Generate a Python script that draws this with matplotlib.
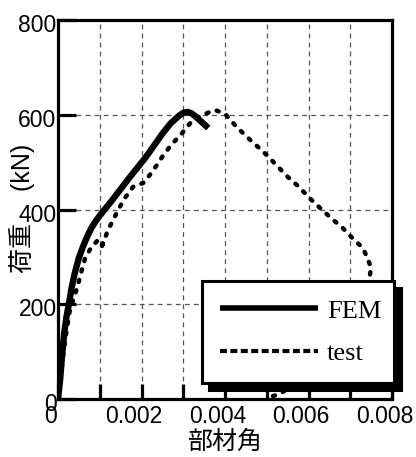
import numpy as np
import matplotlib
matplotlib.use("Agg")
import matplotlib.pyplot as plt
import matplotlib.transforms as mtransforms
from matplotlib.lines import Line2D

# --- donnees ---
fem_angle = [0.0, 0.00005, 0.0001, 0.00015, 0.0002, 0.00026, 0.00032, 0.0004, 0.0005,
             0.0006, 0.0007, 0.0008, 0.0009, 0.001, 0.0011, 0.0013, 0.0015, 0.0017,
             0.0019, 0.0021, 0.0023, 0.0025, 0.0027, 0.0029, 0.003, 0.0031, 0.0032,
             0.0033, 0.0034, 0.0035, 0.0036]
fem_load = [0, 40, 95, 140, 172, 200, 232, 265, 298, 322, 343, 361, 375, 387, 398, 420,
            443, 466, 488, 510, 535, 560, 582, 598, 604, 606, 603, 596, 588, 580, 572]

test_angle = [0.0, 0.00008, 0.00018, 0.00028, 0.00038, 0.00045, 0.00057, 0.00065, 0.00079,
              0.00096, 0.00108, 0.00102, 0.0012, 0.00132, 0.00144, 0.0016, 0.0018, 0.00204,
              0.0022, 0.00237, 0.00254, 0.00273, 0.00297, 0.00323, 0.00347, 0.00376, 0.004,
              0.00424, 0.00448, 0.00474, 0.005, 0.00525, 0.0055, 0.00577, 0.006, 0.00628,
              0.00654, 0.00682, 0.00707, 0.0073, 0.0074, 0.0075, 0.00745, 0.0073, 0.0068,
              0.006, 0.0053, 0.0051]
test_load = [0, 60, 130, 185, 215, 232, 272, 298, 319, 336, 331, 315, 357, 378, 399, 424, 448,
             456, 473, 494, 517, 538, 561, 589, 600, 610, 602, 578, 557, 536, 515, 492, 469,
             448, 426, 403, 382, 361, 338, 319, 300, 277, 251, 200, 120, 50, 10, 5]

x_ticks = [0, 0.001, 0.002, 0.003, 0.004, 0.005, 0.006, 0.007, 0.008]
x_tick_labels = ["0", "", "0.002", "", "0.004", "", "0.006", "", "0.008"]
y_ticks = [0, 200, 400, 600, 800]
y_tick_labels = ["0", "200", "400", "600", "800"]

plt.rcParams['font.family'] = ['Liberation Sans', 'Noto Sans CJK JP']
plt.rcParams['lines.scale_dashes'] = False

fig = plt.figure(figsize=(4.16, 4.57), dpi=100)
ax = fig.add_axes([58 / 416, 1 - 399 / 457, 334 / 416, 379 / 457])

ax.plot(fem_angle, fem_load, color='black', linewidth=4.6, solid_capstyle='butt',
        solid_joinstyle='round')
ax.plot(test_angle, test_load, color='black', linewidth=3.2, dashes=(1.6, 6.2),
        dash_capstyle='round')

ax.set_xlim(0, 0.008)
ax.set_ylim(0, 800)
ax.set_xticks(x_ticks)
ax.set_xticklabels(x_tick_labels)
ax.set_yticks(y_ticks)
ax.set_yticklabels(y_tick_labels)

ax.grid(True, color='#555555', linewidth=0.9, dashes=(3.5, 3))
for s in ax.spines.values():
    s.set_linewidth(2.3)

ax.tick_params(axis='both', direction='in', width=2.3, labelsize=16.5, color='black')
ax.tick_params(axis='x', length=11, pad=4)
ax.tick_params(axis='y', length=13, pad=1)

# decalage des etiquettes comme sur l'original
offx = mtransforms.ScaledTranslation(-7.5 / 100, 0, fig.dpi_scale_trans)
for lab in ax.get_xticklabels():
    lab.set_transform(lab.get_transform() + offx)
offy = mtransforms.ScaledTranslation(0, -3 / 100, fig.dpi_scale_trans)
for lab in ax.get_yticklabels():
    lab.set_transform(lab.get_transform() + offy)

ax.set_xlabel("部材角", fontsize=18, labelpad=2)
ax.set_ylabel("荷重 \u3000(kN)", fontsize=18)
ax.yaxis.set_label_coords(-0.07, 0.503)

handles = [Line2D([], [], color='black', linewidth=4, solid_capstyle='butt'),
           Line2D([], [], color='black', linewidth=3, dashes=(5, 2.5), dash_capstyle='butt')]
leg = ax.legend(handles, ["FEM", "test"], loc='lower left',
                bbox_to_anchor=(0.431, 0.042, 0.575, 0.267), mode='expand',
                borderaxespad=0, fancybox=False, frameon=True, framealpha=1,
                edgecolor='black', handlelength=3.7, handletextpad=0.35,
                labelspacing=0.72, borderpad=0.68,
                prop={'family': 'Liberation Serif', 'size': 19},
                shadow={'ox': 5, 'oy': -5, 'color': 'black', 'alpha': 1})
leg.get_frame().set_linewidth(2.2)

fig.savefig("out.png", dpi=100)
